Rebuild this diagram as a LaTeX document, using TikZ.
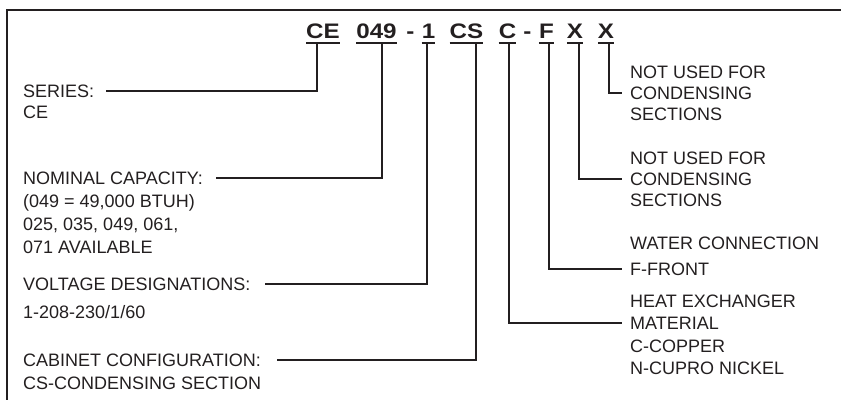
\documentclass[tikz,border=0pt]{standalone}
\usepackage{fontspec}
\setmainfont{Liberation Sans}
\newfontfamily\codefont[FakeStretch=1.15]{Liberation Sans}
\usetikzlibrary{positioning}
\definecolor{ink}{HTML}{231F20}

\tikzset{
	txt/.style={anchor=west, inner sep=0pt, text height=16.95pt, text depth=4.05pt,
		font=\fontsize{18}{21}\selectfont, text=ink},
	code/.style={anchor=base, inner xsep=0pt, inner ysep=5pt, text depth=0pt,
		font=\codefont\bfseries\fontsize{21}{24}\selectfont, text=ink},
	uline/.style={draw=ink, line width=2pt},
	conn/.style={draw=ink, line width=1.8pt},
}

\begin{document}
\begin{tikzpicture}[x=1pt, y=-1pt]
			\useasboundingbox (0,0) rectangle (841,400);
			
			% Frame
			\draw[ink, line width=2.2pt] (841,10) -- (7,10) -- (7,400);
			
			% Model number
			\node[code] (ce) at (323,38) {CE};
			\node[code] (n049) at (376.5,38) {049};
			\node[code] (d1) at (410.5,38) {-};
			\node[code] (one) at (428.5,38) {1};
			\node[code] (cs) at (466.5,38) {CS};
			\node[code] (cmat) at (507.5,38) {C};
			\node[code] (d2) at (527.5,38) {-};
			\node[code] (fcon) at (546.5,38) {F};
			\node[code] (xa) at (575,38) {X};
			\node[code] (xb) at (606,38) {X};
			\foreach \t in {ce,n049,one,cs,cmat,fcon,xa,xb}
				\draw[uline] (\t.south west) -- (\t.south east);
			
			% Left labels
			\node[txt] (series) at (23,91) {SERIES:};
			\node[txt, below=0pt of series.south west, anchor=north west] (series2) {CE};
			
			\node[txt] (nominal) at (23,178) {NOMINAL CAPACITY:};
			\node[txt, below=1.5pt of nominal.south west, anchor=north west] (nominal2) {(049 = 49,000 BTUH)};
			\node[txt, below=1.5pt of nominal2.south west, anchor=north west] (nominal3) {025, 035, 049, 061,};
			\node[txt, below=1.5pt of nominal3.south west, anchor=north west] (nominal4) {071 AVAILABLE};
			
			\node[txt] (voltage) at (23,284) {VOLTAGE DESIGNATIONS:};
			\node[txt, below=7pt of voltage.south west, anchor=north west] (voltage2) {1-208-230/1/60};
			
			\node[txt] (cabinet) at (23,360) {CABINET CONFIGURATION:};
			\node[txt, below=2pt of cabinet.south west, anchor=north west] (cabinet2) {CS-CONDENSING SECTION};
			
			% Right labels
			\node[txt] (nua) at (630,93) {CONDENSING};
			\node[txt, above=0pt of nua.north west, anchor=south west] (nua1) {NOT USED FOR};
			\node[txt, below=0pt of nua.south west, anchor=north west] (nua3) {SECTIONS};
			
			\node[txt] (nub) at (630,179) {CONDENSING};
			\node[txt, above=0pt of nub.north west, anchor=south west] (nub1) {NOT USED FOR};
			\node[txt, below=0pt of nub.south west, anchor=north west] (nub3) {SECTIONS};
			
			\node[txt] (ffront) at (630,269) {F-FRONT};
			\node[txt, above=5pt of ffront.north west, anchor=south west] (water) {WATER CONNECTION};
			
			\node[txt] (material) at (630,323) {MATERIAL};
			\node[txt, above=1pt of material.north west, anchor=south west] (heat) {HEAT EXCHANGER};
			\node[txt, below=2pt of material.south west, anchor=north west] (copper) {C-COPPER};
			\node[txt, below=0pt of copper.south west, anchor=north west] (nickel) {N-CUPRO NICKEL};
			
			% Leaders
			\draw[conn] ([xshift=-6pt]ce.south) |- ([xshift=12pt]series.east);
			\draw[conn] ([xshift=5.5pt]n049.south) |- ([xshift=13pt]nominal.east);
			\draw[conn] ([xshift=-1.5pt]one.south) |- ([xshift=15pt]voltage.east);
			\draw[conn] ([xshift=9.5pt]cs.south) |- ([xshift=16pt]cabinet.east);
			\draw[conn] ([xshift=1.5pt]cmat.south) |- ([xshift=-8pt]material.west);
			\draw[conn] ([xshift=2.5pt]fcon.south) |- ([xshift=-8pt]ffront.west);
			\draw[conn] ([xshift=4pt]xa.south) |- ([xshift=-8pt]nub.west);
			\draw[conn] ([xshift=3pt]xb.south) |- ([xshift=-8pt]nua.west);
		\end{tikzpicture}
\end{document}
